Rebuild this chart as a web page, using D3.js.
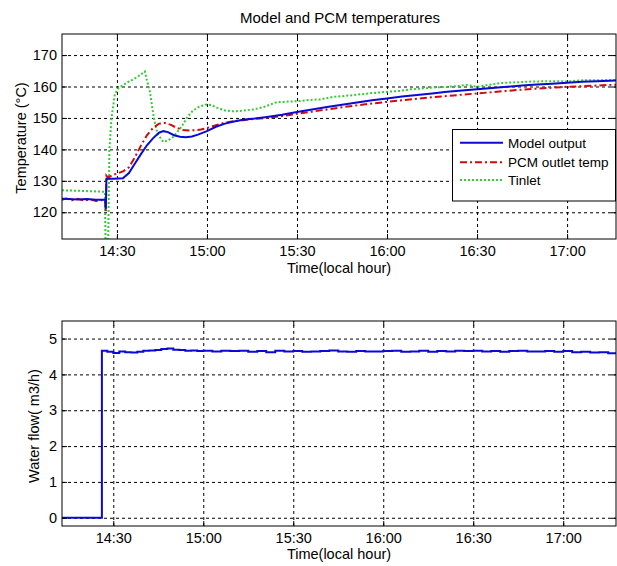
<!DOCTYPE html>
<html>
<head>
<meta charset="utf-8">
<script src="https://cdn.jsdelivr.net/npm/d3@7"></script>
<style>
  body { margin: 0; background: #fff; }
  svg text { font-family: "Liberation Sans", Arial, sans-serif; fill: #000; }
  .axis path { display: none; }
  .axis line { stroke: #000; }
  .grid line { stroke: #000; stroke-dasharray: 3,3; stroke-width: 1; }
  .grid path { display: none; }
</style>
</head>
<body>
<div id="chart"></div>
<script>
// minutes after 14:00 -> value
const modelOutput = [[11.7,124.3],[14,124.2],[17,124.1],[20,124.2],[23,124.0],[26.1,124.0],[26.3,121],[26.5,130.7],[29,130.7],[32,130.8],[34,132.5],[36,135.5],[38,138.5],[40,141.3],[42,143.5],[44,145.3],[45.5,145.8],[47,145.5],[49,144.5],[51,144.0],[53,143.9],[55,144.1],[57,144.7],[60,145.8],[63,147.2],[66,148.2],[69,148.9],[72,149.4],[76,149.8],[80,150.3],[85,151.0],[90,151.9],[95,152.7],[100,153.5],[105,154.2],[110,154.9],[115,155.6],[120,156.2],[125,156.8],[130,157.3],[135,157.8],[140,158.3],[145,158.7],[150,159.1],[155,159.5],[160,159.9],[165,160.3],[170,160.6],[175,160.9],[180,161.2],[185,161.5],[190,161.7],[196.5,161.9]];

const pcmOutlet = [[11.7,124.0],[13,124.4],[15,123.8],[17,124.3],[19,123.7],[21,124.1],[23,123.6],[25,123.9],[26.1,123.5],[26.3,120.3],[26.5,131.6],[27,131.0],[28.5,131.8],[30,132.3],[32,133.0],[34,134.3],[36,137.5],[38,141.2],[40,144.5],[42,146.8],[44,148.2],[46,148.4],[48,147.8],[50,146.8],[52,146.2],[54,146.0],[56,146.1],[58,146.3],[60,146.8],[63,147.7],[66,148.5],[69,149.0],[72,149.3],[76,149.7],[80,150.0],[85,150.6],[90,151.3],[95,152.0],[100,152.7],[105,153.4],[110,154.0],[115,154.6],[120,155.1],[125,155.6],[130,156.1],[135,156.6],[140,157.0],[145,157.4],[150,157.8],[155,158.2],[160,158.6],[165,159.0],[170,159.3],[175,159.6],[180,159.9],[185,160.1],[190,160.3],[196.5,160.6]];

const tinlet = [[11.7,127.0],[15,126.9],[18,126.8],[21,126.7],[24,126.6],[26,126.5],[26.3,105],[27,105],[27.5,140],[28.2,150],[29.3,157.5],[30.5,159.5],[33,161],[36,162.6],[38,163.8],[39.3,164.8],[40,162],[41,158.3],[42.3,150],[43.5,145],[45.4,142.4],[47,142.8],[48.8,144],[50.5,146],[51.6,147.3],[53.5,150.3],[55.4,152.4],[57.5,153.6],[59.9,154.3],[61.5,154.1],[63.2,153.3],[66,152.4],[68.8,152.1],[72,152.3],[75.4,152.7],[79,153.5],[83.2,155.0],[87,155.2],[90,155.3],[94,155.7],[97.7,155.9],[102,156.7],[106,157.0],[110,157.4],[115,157.9],[120,158.3],[124,158.6],[127.7,159.1],[131,159.3],[135.4,159.7],[140,159.9],[144,160.2],[146.6,160.5],[150,159.9],[153,160.4],[157.7,161.1],[162,161.3],[168.8,161.6],[175,161.7],[180,161.6],[185.4,162.0],[190,162.0],[196.5,162.1]];

const waterFlow = [[12.9,0],[26.1,0],[26.2,4.66],[28,4.63],[30,4.60],[32,4.64],[34,4.62],[36,4.61],[38,4.63],[40,4.66],[42,4.67],[44,4.68],[46,4.71],[48,4.72],[50,4.69],[52,4.68],[54,4.66],[56,4.67],[58,4.65],[60,4.66],[63,4.64],[66,4.66],[69,4.65],[72,4.66],[75,4.63],[78,4.65],[81,4.62],[84,4.66],[87,4.64],[90,4.65],[93,4.63],[96,4.64],[99,4.65],[102,4.67],[105,4.64],[108,4.63],[111,4.65],[114,4.64],[117,4.64],[120,4.65],[123,4.66],[126,4.63],[129,4.64],[132,4.66],[135,4.63],[138,4.65],[141,4.64],[144,4.66],[147,4.65],[150,4.66],[153,4.64],[156,4.65],[159,4.63],[162,4.65],[165,4.66],[168,4.64],[171,4.64],[174,4.65],[177,4.63],[180,4.65],[183,4.62],[186,4.63],[189,4.61],[192,4.62],[195,4.59],[197.7,4.61]];

const tempTicks = [120, 130, 140, 150, 160, 170];
const flowTicks = [0, 1, 2, 3, 4, 5];
const legendLabels = ["Model output", "PCM outlet temp", "Tinlet"];

const base = new Date(2000, 0, 1, 14, 0, 0);
const toDate = m => new Date(base.getTime() + m * 60000);

const width = 617, height = 566;
const svg = d3.select("#chart").append("svg")
    .attr("width", width)
    .attr("height", height);

const fmt = d3.timeFormat("%H:%M");
const tickFont = "14.5px";

function drawPanel(opts) {
    const left = 62, right = 616;
    const x = d3.scaleTime().domain(opts.xDomain.map(toDate)).range([left, right]);
    const y = d3.scaleLinear().domain(opts.yDomain).range([opts.bottom, opts.top]);
    const w = right - left, h = opts.bottom - opts.top;

    const clipId = "clip-" + opts.id;
    svg.append("clipPath").attr("id", clipId)
        .append("rect").attr("x", left).attr("y", opts.top).attr("width", w).attr("height", h);

    const xTicks = d3.timeMinute.every(30).range(toDate(opts.xDomain[0]), toDate(opts.xDomain[1]));

    // grid
    svg.append("g").attr("class", "grid")
        .attr("transform", `translate(0,${opts.bottom})`)
        .call(d3.axisBottom(x).tickValues(xTicks).tickSize(-h).tickFormat(""));
    svg.append("g").attr("class", "grid")
        .attr("transform", `translate(${left},0)`)
        .call(d3.axisLeft(y).tickValues(opts.yTicks).tickSize(-w).tickFormat(""));

    // lines
    const g = svg.append("g").attr("clip-path", `url(#${clipId})`);
    opts.series.forEach(s => {
        const line = d3.line()
            .x(d => x(toDate(d[0])))
            .y(d => y(d[1]))
            .curve(s.curve || d3.curveLinear);
        g.append("path")
            .datum(s.data)
            .attr("fill", "none")
            .attr("stroke", s.color)
            .attr("stroke-width", s.width || 2)
            .attr("stroke-dasharray", s.dash || null)
            .attr("d", line);
    });

    // axes (ticks inward)
    svg.append("g").attr("class", "axis")
        .attr("transform", `translate(0,${opts.bottom})`)
        .style("font-size", tickFont)
        .call(d3.axisBottom(x).tickValues(xTicks).tickFormat(fmt).tickSize(-5).tickPadding(7));
    svg.append("g").attr("class", "axis")
        .attr("transform", `translate(0,${opts.top})`)
        .call(d3.axisTop(x).tickValues(xTicks).tickFormat("").tickSize(-5));
    svg.append("g").attr("class", "axis")
        .attr("transform", `translate(${left},0)`)
        .style("font-size", tickFont)
        .call(d3.axisLeft(y).tickValues(opts.yTicks).tickFormat(d3.format("d")).tickSize(-5).tickPadding(5));
    svg.append("g").attr("class", "axis")
        .attr("transform", `translate(${right},0)`)
        .call(d3.axisRight(y).tickValues(opts.yTicks).tickFormat("").tickSize(-5));
    svg.selectAll(".axis text").attr("font-family", "Liberation Sans, Arial, sans-serif");

    // box
    svg.append("rect")
        .attr("x", left).attr("y", opts.top)
        .attr("width", w).attr("height", h)
        .attr("fill", "none").attr("stroke", "#000").attr("stroke-width", 1);

    // labels
    svg.append("text")
        .attr("x", (left + right) / 2).attr("y", opts.xLabelY)
        .attr("text-anchor", "middle").style("font-size", tickFont)
        .text("Time(local hour)");
    svg.append("text")
        .attr("transform", `translate(${opts.yLabelX},${opts.yLabelCy}) rotate(-90)`)
        .attr("text-anchor", "middle").style("font-size", tickFont)
        .text(opts.yLabel);

    return { x, y };
}

const tempColors = ["#0a0ad2", "#d20a0a", "#33cc33"];

drawPanel({
    id: "temp",
    top: 34, bottom: 239,
    xDomain: [11.7, 196.3],
    yDomain: [111.5, 176.7],
    yTicks: tempTicks,
    xLabelY: 273,
    yLabelX: 25.5, yLabelCy: 138,
    yLabel: "Temperature (\u00B0C)",
    series: [
        { data: tinlet, color: tempColors[2], dash: "2,2", width: 2 },
        { data: pcmOutlet, color: tempColors[1], dash: "7,3,2,3", width: 2 },
        { data: modelOutput, color: tempColors[0], width: 2 }
    ]
});

drawPanel({
    id: "flow",
    top: 321, bottom: 526,
    xDomain: [12.9, 197.6],
    yDomain: [-0.23, 5.49],
    yTicks: flowTicks,
    xLabelY: 559,
    yLabelX: 39, yLabelCy: 426,
    yLabel: "Water flow( m3/h)",
    series: [
        { data: waterFlow, color: "#0a0ad2", width: 2, curve: d3.curveStepAfter }
    ]
});

// title
svg.append("text")
    .attr("x", 340).attr("y", 23)
    .attr("text-anchor", "middle").style("font-size", "15px")
    .text("Model and PCM temperatures");

// legend
const lg = svg.append("g");
lg.append("rect")
    .attr("x", 452.5).attr("y", 129.5)
    .attr("width", 163).attr("height", 71.5)
    .attr("fill", "#fff").attr("stroke", "#000").attr("stroke-width", 1);
const legendDash = [null, "7,3,2,3", "2,2"];
const legendY = [142.7, 162.3, 180];
legendLabels.forEach((label, i) => {
    lg.append("line")
        .attr("x1", 460).attr("x2", 503)
        .attr("y1", legendY[i]).attr("y2", legendY[i])
        .attr("stroke", tempColors[i]).attr("stroke-width", 2)
        .attr("stroke-dasharray", legendDash[i]);
    lg.append("text")
        .attr("x", 508).attr("y", legendY[i] + 5)
        .style("font-size", "13.5px")
        .text(label);
});
</script>
</body>
</html>
